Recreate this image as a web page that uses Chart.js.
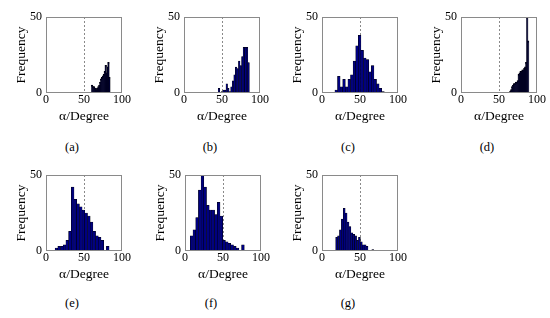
<!DOCTYPE html>
<html>
<head>
<meta charset="utf-8">
<script src="https://cdn.jsdelivr.net/npm/chart.js@4/dist/chart.umd.min.js"></script>
<style>
  html, body { margin: 0; padding: 0; background: #fff; }
  #wrap { position: relative; width: 550px; height: 318px; overflow: hidden; }
  canvas { position: absolute; }
  .cap { position: absolute; width: 40px; height: 16px; line-height: 16px; text-align: center;
         font-family: 'Liberation Serif', 'Times New Roman', serif; font-size: 12.5px; color: #000; }
</style>
</head>
<body>
<div id="wrap"></div>
<script>
// ---- data ----
const panelLabels = ['(a)', '(b)', '(c)', '(d)', '(e)', '(f)', '(g)'];
const xTickValues = [0, 50, 100];
const yTickValues = [0, 50];
const referenceAngle = 50;
const xTitle = 'α/Degree';
const yTitle = 'Frequency';
// histogram bin range [first edge, last edge] of each panel
const binRanges = [[60, 84], [45, 86], [17, 82], [64.4, 88.9], [12, 83], [7, 78], [18, 68]];
// counts per bin
const countsA = [5, 4, 4, 3, 3, 2, 3, 4, 5, 7, 9, 10, 11, 12, 14, 18, 13, 17, 20, 10];
const countsB = [3, 0, 1, 2, 2, 6, 3, 1, 4, 8, 12, 17, 16, 21, 18, 24, 30, 30, 30, 20];
const countsC = [2, 11, 4, 9, 4, 9, 12, 21, 31, 38, 28, 23, 22, 14, 18, 9, 6, 3, 1];
const countsD = [1, 2, 4, 5, 6, 6, 7, 7, 8, 12, 13, 14, 14, 15, 15, 16, 17, 20, 50, 34];
const countsE = [2, 3, 3, 4, 7, 13, 42, 34, 31, 29, 27, 25, 23, 19, 13, 10, 9, 7, 0, 3];
const countsF = [10, 14, 22, 40, 50, 42, 30, 27, 27, 24, 32, 23, 7, 6, 5, 4, 3, 2, 0, 4];
const countsG = [9, 10, 14, 21, 28, 25, 19, 16, 12, 11, 10, 7, 9, 6, 4, 4, 3, 0, 0, 1];
const allCounts = [countsA, countsB, countsC, countsD, countsE, countsF, countsG];

// ---- layout (plot-box top-left corners) ----
const boxPos = [[46, 17], [184, 17], [322, 17], [461, 17], [46, 175], [185, 175], [322, 175]];
const capY = [146.5, 146.5, 146.5, 146.5, 302.5, 302.5, 302.5];
const BOX = 76, PADL = 46, PADT = 12, PADR = 12, XH = 34;
const serif = "'Liberation Serif', 'Times New Roman', serif";

const framePlugin = {
  id: 'frame',
  beforeDatasetsDraw(chart) {
    const {ctx, chartArea: a, scales: {x}} = chart;
    const px = Math.round(x.getPixelForValue(referenceAngle)) + 0.5;
    ctx.save();
    ctx.strokeStyle = '#8a8a8a';
    ctx.lineWidth = 1;
    ctx.setLineDash([2, 2]);
    ctx.beginPath();
    ctx.moveTo(px, a.top);
    ctx.lineTo(px, a.bottom);
    ctx.stroke();
    ctx.restore();
  },
  afterDraw(chart) {
    const {ctx, chartArea: a} = chart;
    ctx.save();
    ctx.strokeStyle = '#8a8a8a';
    ctx.lineWidth = 1;
    ctx.strokeRect(Math.round(a.left) + 0.5, Math.round(a.top) + 0.5,
                   Math.round(a.right - a.left) - 1, Math.round(a.bottom - a.top) - 1);
    ctx.restore();
  }
};

const wrap = document.getElementById('wrap');
allCounts.forEach((counts, i) => {
  const [bl, bt] = boxPos[i];
  const cv = document.createElement('canvas');
  const W = PADL + BOX + PADR, H = PADT + BOX + XH;
  cv.width = W; cv.height = H;
  cv.style.left = (bl - PADL) + 'px';
  cv.style.top = (bt - PADT) + 'px';
  cv.style.width = W + 'px'; cv.style.height = H + 'px';
  wrap.appendChild(cv);

  const [lo, hi] = binRanges[i];
  const w = (hi - lo) / counts.length;
  const points = counts.map((c, k) => ({x: lo + w * (k + 0.5), y: c}));
  // very narrow bins render mostly as their black edges in the reference
  const narrow = w < 1.5;

  new Chart(cv, {
    type: 'bar',
    data: {
      datasets: [{
        data: points,
        backgroundColor: narrow ? '#00002e' : '#000080',
        borderColor: '#000000',
        borderWidth: 0.5,
        inflateAmount: narrow ? 0.7 : 'auto',
        barPercentage: 1,
        categoryPercentage: 1
      }]
    },
    options: {
      responsive: false,
      animation: false,
      devicePixelRatio: 1,
      layout: {padding: {left: 0, top: PADT, right: PADR, bottom: 0}},
      plugins: {legend: {display: false}, tooltip: {enabled: false}},
      scales: {
        x: {
          type: 'linear', min: 0, max: 100, offset: false,
          grid: {display: false, drawTicks: false},
          border: {display: false},
          afterBuildTicks: s => { s.ticks = xTickValues.map(v => ({value: v})); },
          afterFit: s => { s.height = XH; },
          ticks: {autoSkip: false, maxRotation: 0, padding: 0, color: '#000',
                  font: {family: serif, size: 12}},
          title: {display: true, text: xTitle, color: '#000', padding: {top: 0, bottom: 2.5},
                  font: {family: serif, size: 13.5}}
        },
        y: {
          min: 0, max: 50,
          grid: {display: false, drawTicks: false},
          border: {display: false},
          afterBuildTicks: s => { s.ticks = yTickValues.map(v => ({value: v})); },
          afterFit: s => { s.width = PADL; },
          ticks: {autoSkip: false, padding: 4, color: '#000',
                  font: {family: serif, size: 12}},
          title: {display: true, text: yTitle, color: '#000', padding: {top: 13, bottom: 0},
                  font: {family: serif, size: 13.5}}
        }
      }
    },
    plugins: [framePlugin]
  });

  const cap = document.createElement('div');
  cap.className = 'cap';
  cap.textContent = panelLabels[i];
  cap.style.left = (bl + 26 - 20) + 'px';
  cap.style.top = (capY[i] - 8) + 'px';
  wrap.appendChild(cap);
});
</script>
</body>
</html>
